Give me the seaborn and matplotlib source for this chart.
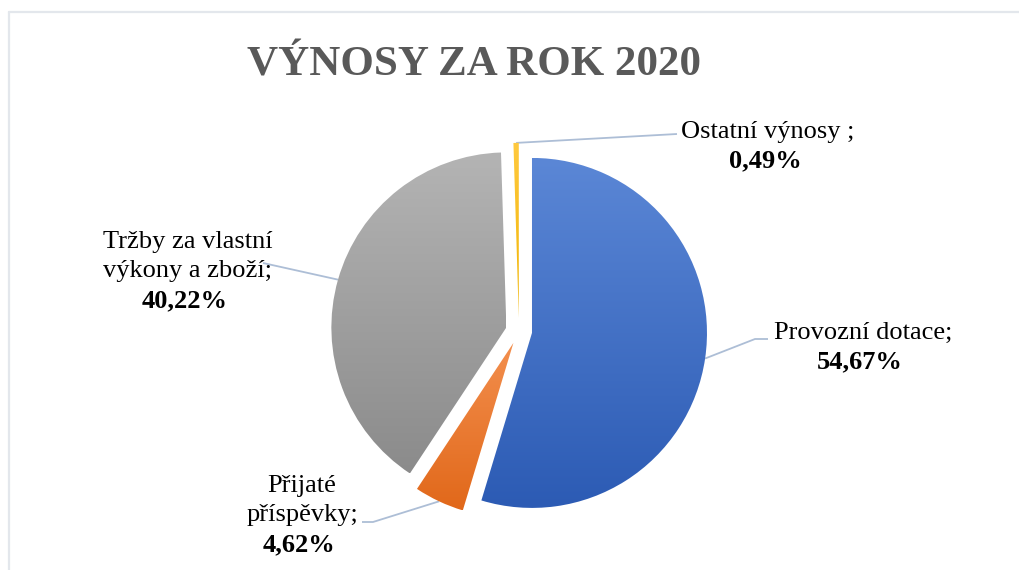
import numpy as np
import matplotlib
matplotlib.use("Agg")
import matplotlib.pyplot as plt
import matplotlib.colors as mcolors
from matplotlib.lines import Line2D
import seaborn as sns

# ---- data ----
categories = ["Provozní dotace", "Přijaté příspěvky", "Tržby za vlastní výkony a zboží", "Ostatní výnosy"]
values = [54.67, 4.62, 40.22, 0.49]
pct_labels = ["54,67%", "4,62%", "40,22%", "0,49%"]
label_lines = [["Provozní dotace;"], ["Přijaté", "příspěvky;"], ["Tržby za vlastní", "výkony a zboží;"], ["Ostatní výnosy ;"]]
title = "VÝNOSY ZA ROK 2020"

# ---- style ----
sns.set_theme(style="white")
plt.rcParams['font.family'] = ['Liberation Serif', 'DejaVu Serif']

grad_top = ["#5B87D6", "#F38F4E", "#B4B4B4", "#FFC93F"]
grad_bot = ["#2C5BB4", "#E1681A", "#8B8B8B", "#F0B400"]
line_col = "#ADBED6"

W, H = 1020, 570
fig = plt.figure(figsize=(W / 100, H / 100), dpi=100)
ax = fig.add_axes([0, 0, 1, 1])

cx, cy, R = 519, H - 331, 175
# matplotlib applies explode in data units, so scale the fraction by the radius
explode = [0.075 * R] * len(values)
wedges, _ = ax.pie(values, explode=explode, startangle=90, counterclock=False,
                   center=(cx, cy), radius=R, wedgeprops=dict(linewidth=0))

# gradient fills clipped to each wedge
for w, ct, cb in zip(wedges, grad_top, grad_bot):
    ext = w.get_path().get_extents()
    c1 = np.array(mcolors.to_rgb(ct))
    c2 = np.array(mcolors.to_rgb(cb))
    t = np.linspace(0, 1, 256)[:, None]
    img = (c1[None, :] * (1 - t) + c2[None, :] * t)[:, None, :]
    img = np.repeat(img, 2, axis=1)
    im = ax.imshow(img, extent=(ext.x0, ext.x1, ext.y0, ext.y1), origin="upper",
                   aspect="auto", interpolation="bilinear", zorder=w.get_zorder() + 0.1)
    im.set_clip_path(w)
    w.set_facecolor("none")

ax.set_xlim(0, W)
ax.set_ylim(0, H)
ax.set_aspect("equal")
ax.axis("off")

def edge_point(w):
    th = np.deg2rad((w.theta1 + w.theta2) / 2)
    x0, y0 = w.center
    return x0 + w.r * np.cos(th), y0 + w.r * np.sin(th)

# label layout (pixel positions, y from top): (center x, first baseline y)
label_pos = [(863, 339), (302, 492), (188, 248), (768, 138)]
line_gap = 29.5
# leader elbows (pixel coords from top)
leader_pts = [[(755, 339), (768, 339)],
              [(373, 522), (362, 522)],
              [(263, 263)],
              [(677, 134)]]

fs = 19
for i, w in enumerate(wedges):
    x, y = label_pos[i]
    lines = label_lines[i]
    for k, ln in enumerate(lines):
        ax.text(x, H - (y + k * line_gap), ln, ha="center", va="baseline",
                fontsize=fs, color="black")
    ax.text(x - 3, H - (y + len(lines) * line_gap), pct_labels[i], ha="center",
            va="baseline", fontsize=fs, fontweight="bold", color="black")
    sx, sy = edge_point(w)
    xs = [sx] + [p[0] for p in leader_pts[i]]
    ys = [sy] + [H - p[1] for p in leader_pts[i]]
    ax.plot(xs, ys, color=line_col, lw=1.3, zorder=1, solid_capstyle="butt")

# title
ax.text(474, H - 75, title, ha="center", va="baseline", fontsize=31,
        fontweight="bold", color="#595959")

# chart border (left and top)
fig.add_artist(Line2D([9.5 / W, 9.5 / W], [0, 1 - 11.5 / H], transform=fig.transFigure,
                      color="#E3E7EC", lw=1.6))
fig.add_artist(Line2D([9.5 / W, 1], [1 - 11.5 / H, 1 - 11.5 / H], transform=fig.transFigure,
                      color="#E3E7EC", lw=1.6))

fig.savefig("out.png", dpi=100, facecolor="white")
